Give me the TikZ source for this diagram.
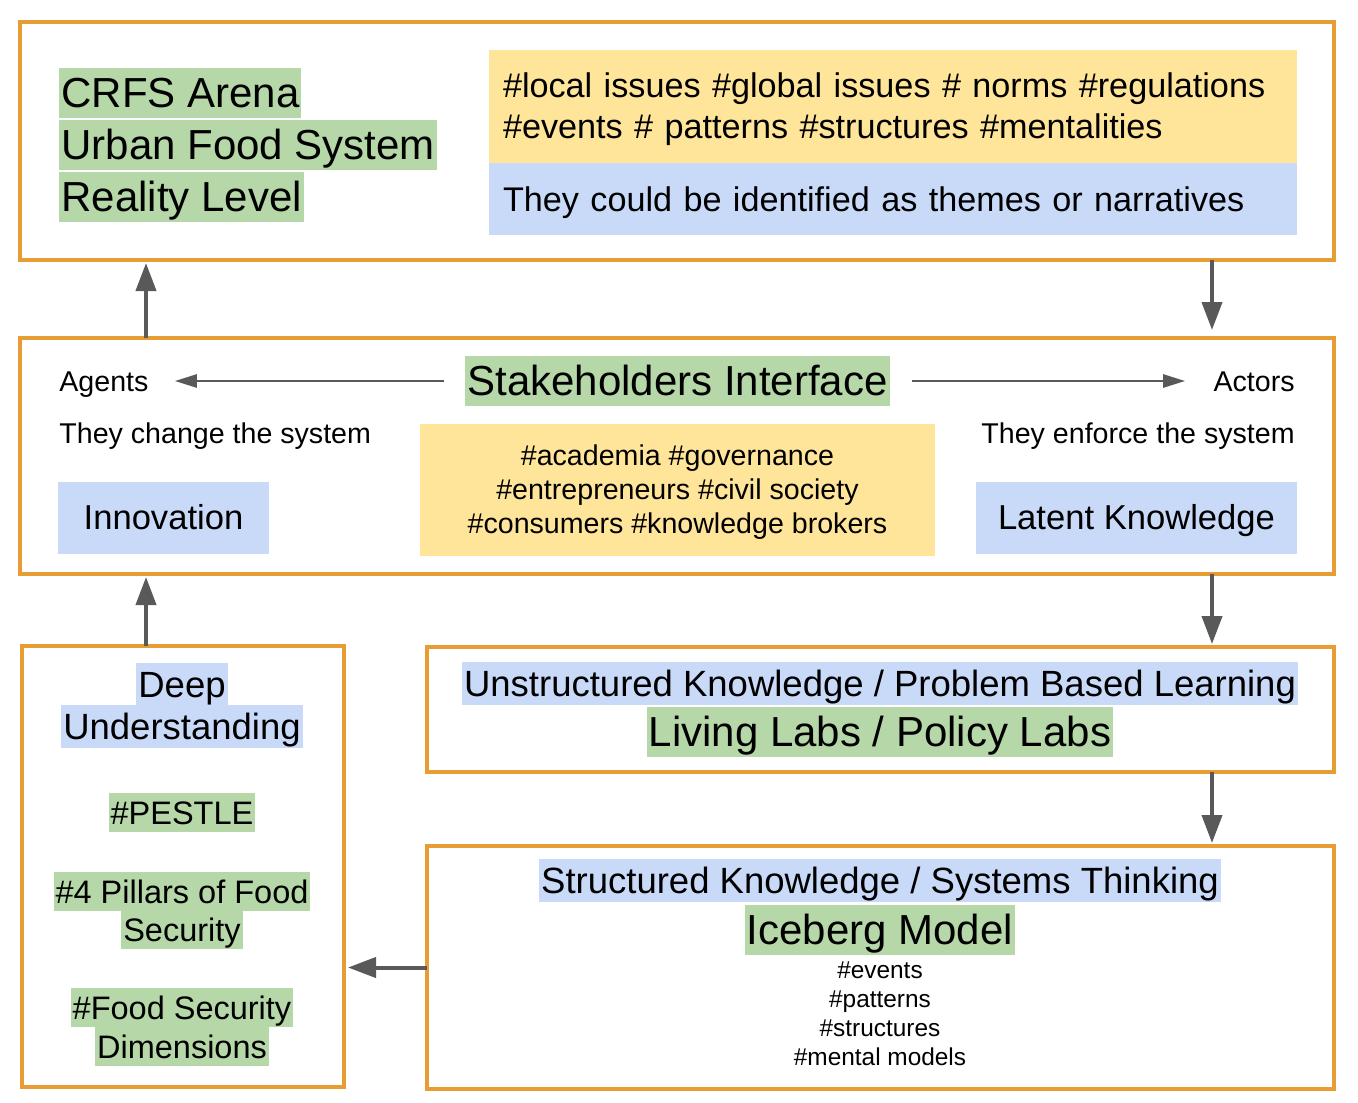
\documentclass[tikz,border=0pt]{standalone}
\usepackage{fontspec}
\setmainfont{Liberation Sans}
\usetikzlibrary{arrows.meta}

\definecolor{panelorange}{RGB}{232,157,52}
\definecolor{hlgreen}{RGB}{182,215,168}
\definecolor{hlblue}{RGB}{201,218,248}
\definecolor{hlyellow}{RGB}{255,229,153}
\definecolor{arrowgray}{RGB}{89,89,89}

\begin{document}
\begin{tikzpicture}[x=0.5pt,y=-0.5pt,
  panel/.style={draw=panelorange, line width=2pt, inner sep=0pt, outer sep=0pt},
  flow/.style={draw=arrowgray, line width=2pt, -{Triangle[length=14pt,width=10pt]}, shorten >=1.5pt},
  thinflow/.style={draw=arrowgray, line width=1.3pt, -{Triangle[length=11pt,width=6.5pt]}},
  hl/.style={fill=#1, inner xsep=1pt, inner ysep=0pt},
  plain/.style={inner sep=0pt},
  titlefont/.style={font=\fontsize{21}{25}\selectfont, text height=19.5pt, text depth=5.5pt},
  headfont/.style={font=\fontsize{18.25}{22}\selectfont, text height=17pt, text depth=4.5pt},
  tagfont/.style={font=\fontsize{16.25}{19}\selectfont, text height=15.5pt, text depth=4pt},
  boxfont/.style={font=\fontsize{17.3}{20.5}\selectfont},
  themefont/.style={font=\fontsize{17.1}{20.5}\selectfont},
  notefont/.style={font=\fontsize{14.3}{17}\selectfont},
  tinyfont/.style={font=\fontsize{12.2}{14.5}\selectfont},
  keybox/.style={fill=hlblue, boxfont, minimum height=36pt, text height=12.4pt, text depth=0.6pt}]

\useasboundingbox (0,0) rectangle (1358,1102);

% panels
\node [panel, minimum width=657pt, minimum height=119pt] (arena) at (677,141) {};
\node [panel, minimum width=657pt, minimum height=118pt] (hub) at (677,456) {};
\node [panel, minimum width=161pt, minimum height=220.5pt] (deep) at (183,866.5) {};
\node [panel, minimum width=453.5pt, minimum height=62.5pt] (labs) at (880.5,709.5) {};
\node [panel, minimum width=453.5pt, minimum height=121.5pt] (iceberg) at (880.5,967.5) {};

% reality level
\node [hl=hlgreen, titlefont, anchor=base west] (crfs) at (59,107) {CRFS Arena};
\node [hl=hlgreen, titlefont, anchor=base west] (ufs) at (59,159) {Urban Food System};
\node [hl=hlgreen, titlefont, anchor=base west] (level) at (59,211) {Reality Level};

\node [fill=hlyellow, themefont, minimum width=404pt, minimum height=56.5pt, text width=390pt,
  inner xsep=7pt, align=left] (issues) at (893,106.5)
  {\rule{0pt}{15.5pt}\#local issues \#global issues \# norms \#regulations\\
   \#events \# patterns \#structures \#mentalities};
\node [fill=hlblue, themefont, minimum width=404pt, minimum height=36pt, text width=390pt,
  inner xsep=7pt, align=left, text depth=0pt] (themes) at (893,199)
  {They could be identified as themes or narratives};

% stakeholders
\node [hl=hlgreen, titlefont, anchor=base] (iface) at (677.5,395) {Stakeholders Interface};
\node [plain, notefont, anchor=base west] (agents) at (59,391) {Agents};
\node [plain, notefont, anchor=base east] (actors) at (1295,391) {Actors};
\node [plain, notefont, anchor=base west] (change) at (59,443) {They change the system};
\node [plain, notefont, anchor=base east] (enforce) at (1295,443) {They enforce the system};

\node [keybox, minimum width=105.5pt] (innov) at (163.5,518) {Innovation};
\node [keybox, minimum width=160.5pt] (latent) at (1136.5,518) {Latent Knowledge};

\node [fill=hlyellow, notefont, minimum width=257.5pt, minimum height=66pt, align=center] (groups) at (677.5,489.5)
  {\rule{0pt}{13.4pt}\#academia \#governance\\ \#entrepreneurs \#civil society\\ \#consumers \#knowledge brokers};

\draw[thinflow, shorten <=10.5pt, shorten >=13pt] (iface.west) -- (agents.east |- iface.west);
\draw[thinflow, shorten <=11pt, shorten >=14pt] (iface.east) -- (actors.west |- iface.east);

% deep understanding
\node [hl=hlblue, headfont, anchor=base] (deepw) at (182,697) {Deep};
\node [hl=hlblue, headfont, anchor=base] (underst) at (182,739) {Understanding};
\node [hl=hlgreen, tagfont, anchor=base] (pestle) at (182,824) {\#PESTLE};
\node [hl=hlgreen, tagfont, anchor=base] (pillars) at (182,903) {\#4 Pillars of Food};
\node [hl=hlgreen, tagfont, anchor=base] (secur) at (182,941) {Security};
\node [hl=hlgreen, tagfont, anchor=base] (fsd) at (182,1019) {\#Food Security};
\node [hl=hlgreen, tagfont, anchor=base] (dims) at (182,1058) {Dimensions};

% labs
\node [hl=hlblue, headfont, anchor=base] (unstruct) at (880,696) {Unstructured Knowledge / Problem Based Learning};
\node [hl=hlgreen, titlefont, anchor=base] (living) at (880,746) {Living Labs / Policy Labs};

% iceberg
\node [hl=hlblue, headfont, anchor=base] (struct) at (880,893) {Structured Knowledge / Systems Thinking};
\node [hl=hlgreen, titlefont, anchor=base] (icemodel) at (880,944) {Iceberg Model};
\node [plain, tinyfont, align=center, anchor=north] (icetags) at (880,961)
  {\#events\\ \#patterns\\ \#structures\\ \#mental models};

% flow between panels
\coordinate (upA) at ([xshift=63pt]hub.north west);
\coordinate (upB) at ([xshift=62pt]deep.north west);
\coordinate (downA) at ([xshift=-61pt]arena.south east);
\coordinate (downB) at ([xshift=-61pt]hub.south east);
\coordinate (downC) at ([xshift=-61pt]labs.south east);

\draw[flow] (upA) -- (upA |- arena.south);
\draw[flow, shorten >=4pt] (downA) -- (downA |- hub.north);
\draw[flow] (upB) -- (upB |- hub.south);
\draw[flow] (downB) -- (downB |- labs.north);
\draw[flow] (downC) -- (downC |- iceberg.north);
\draw[flow, shorten >=2pt] (iceberg.west) -- (deep.east |- iceberg.west);

\end{tikzpicture}
\end{document}
